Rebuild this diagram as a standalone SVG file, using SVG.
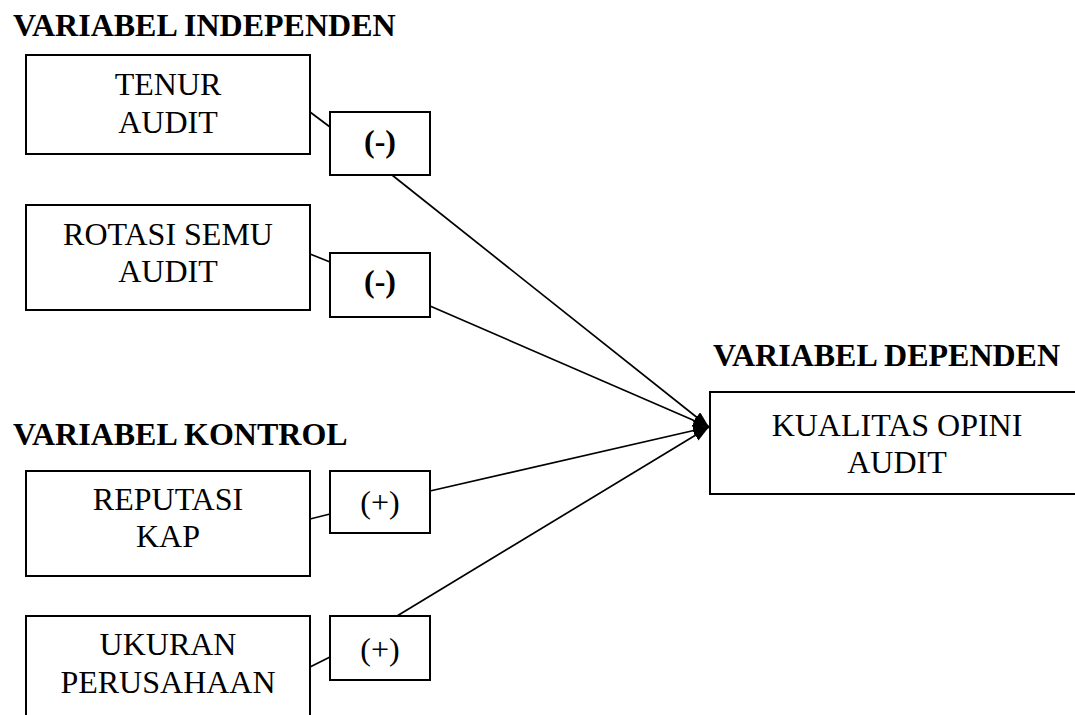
<svg xmlns="http://www.w3.org/2000/svg" width="1075" height="715" viewBox="0 0 1075 715">
<style>
.box{fill:#fff;stroke:#000;stroke-width:2}
.t{font-family:"Liberation Serif","Times New Roman",serif;font-size:32px;fill:#000;text-anchor:middle}
.h{font-family:"Liberation Serif","Times New Roman",serif;font-size:32px;font-weight:bold;fill:#000}
.b{font-weight:bold}
.c{stroke:#000;stroke-width:1.7;fill:none}
</style>
<defs>
<marker id="ah" markerUnits="userSpaceOnUse" markerWidth="17" markerHeight="13" refX="16" refY="6" orient="auto">
<path d="M0,0 L16,6 L0,12 z" fill="#000"/>
</marker>
</defs>
<rect width="1075" height="715" fill="#fff"/>
<text class="h" x="13" y="36">VARIABEL INDEPENDEN</text>
<text class="h" x="13" y="445">VARIABEL KONTROL</text>
<text class="h" x="713" y="366">VARIABEL DEPENDEN</text>
<g id="connectors">
<line class="c" x1="310" y1="112" x2="330" y2="127"/>
<line class="c" x1="310" y1="254" x2="330" y2="262"/>
<line class="c" x1="310" y1="519" x2="330" y2="514"/>
<line class="c" x1="310" y1="667" x2="330" y2="657"/>
<line class="c" x1="392" y1="175" x2="709" y2="427" marker-end="url(#ah)"/>
<line class="c" x1="430" y1="306" x2="709" y2="427" marker-end="url(#ah)"/>
<line class="c" x1="430" y1="491" x2="709" y2="427" marker-end="url(#ah)"/>
<line class="c" x1="397" y1="616" x2="709" y2="427" marker-end="url(#ah)"/>
</g>
<g id="tenur">
<rect class="box" x="26" y="55" width="284" height="99"/>
<text class="t" x="168" y="95">TENUR</text>
<text class="t" x="168" y="133">AUDIT</text>
</g>
<g id="sign1">
<rect class="box" x="330" y="112" width="100" height="63"/>
<text class="t b" x="380" y="152">(-)</text>
</g>
<g id="rotasi">
<rect class="box" x="26" y="205" width="284" height="105"/>
<text class="t" x="168" y="245">ROTASI SEMU</text>
<text class="t" x="168" y="282">AUDIT</text>
</g>
<g id="sign2">
<rect class="box" x="330" y="253" width="100" height="64"/>
<text class="t b" x="380" y="292">(-)</text>
</g>
<g id="reputasi">
<rect class="box" x="26" y="471" width="284" height="105"/>
<text class="t" x="168" y="510">REPUTASI</text>
<text class="t" x="168" y="547">KAP</text>
</g>
<g id="sign3">
<rect class="box" x="330" y="471" width="100" height="62"/>
<text class="t" x="380" y="513">(+)</text>
</g>
<g id="ukuran">
<rect class="box" x="26" y="616" width="284" height="110"/>
<text class="t" x="168" y="655">UKURAN</text>
<text class="t" x="168" y="693">PERUSAHAAN</text>
</g>
<g id="sign4">
<rect class="box" x="330" y="616" width="100" height="64"/>
<text class="t" x="380" y="660">(+)</text>
</g>
<g id="kualitas">
<rect class="box" x="710" y="392" width="370" height="102"/>
<text class="t" x="897" y="436">KUALITAS OPINI</text>
<text class="t" x="897" y="473">AUDIT</text>
</g>
</svg>
